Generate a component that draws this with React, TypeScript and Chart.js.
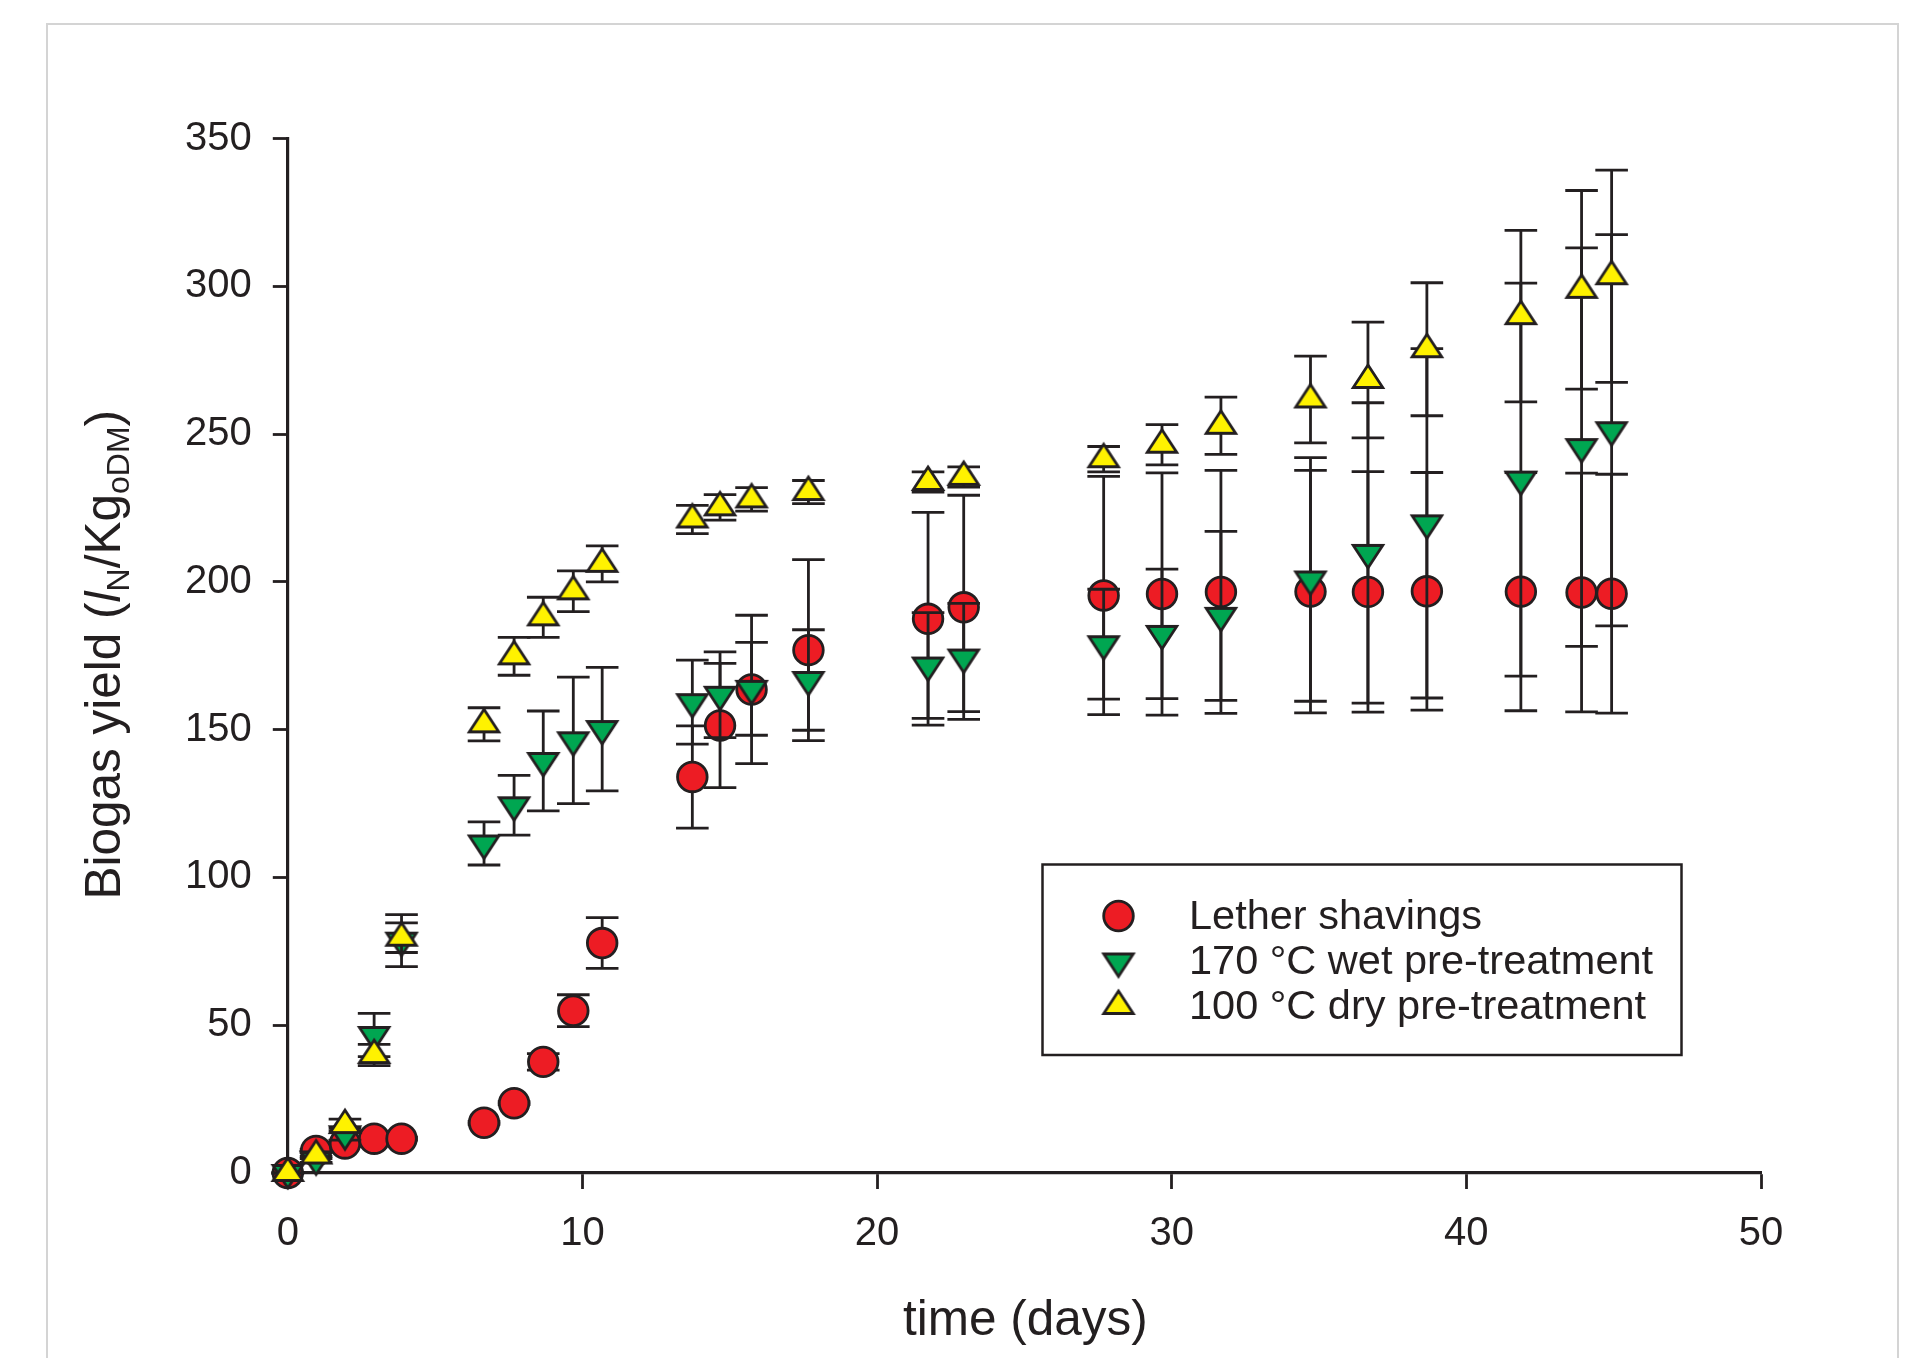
import React, { useEffect, useRef } from 'react';
import { Chart, registerables } from 'chart.js';

Chart.register(...registerables);

// ---------- data ----------
const days = [0, 0.96, 1.94, 2.93, 3.86, 6.66, 7.68, 8.67, 9.69, 10.67, 13.73, 14.67, 15.74, 17.67, 21.73, 22.94, 27.69, 29.67, 31.67, 34.71, 36.66, 38.66, 41.85, 43.91, 44.93];

const leather = [0, 7.5, 10, 11.6, 11.6, 17.0, 23.6, 37.6, 54.9, 77.8, 134.0, 151.4, 163.6, 176.9, 187.5, 191.4, 195.4, 195.9, 196.6, 196.7, 196.6, 196.8, 196.7, 196.4, 196.0];
const leatherErr = [0, 0.5, 1, 0.5, 0.5, 0.5, 0.5, 2.8, 5.4, 8.6, 17.3, 21.0, 25.1, 30.6, 36.0, 37.9, 40.3, 41.0, 41.1, 41.0, 40.7, 40.2, 40.3, 40.4, 40.4];

const wet170 = [0, 4.6, 13.1, 46.7, 78.6, 111.5, 124.4, 139.4, 146.4, 150.2, 159.3, 161.8, 163.8, 166.8, 171.7, 174.4, 178.9, 182.4, 188.5, 200.8, 209.8, 219.8, 234.6, 245.6, 251.3];
const wet170Err = [0, 1, 2, 7.3, 8.8, 7.3, 10.1, 16.9, 21.4, 20.9, 14.2, 14.5, 15.7, 17.0, 17.9, 18.3, 18.6, 21.9, 28.6, 41.2, 50.8, 59.1, 66.5, 67.4, 66.2];

const dry100 = [0, 5.9, 16.2, 39.9, 79.6, 151.8, 174.8, 188.0, 196.8, 206.1, 221.1, 225.2, 227.9, 230.4, 233.8, 235.5, 241.5, 246.4, 252.8, 261.7, 268.3, 278.7, 289.9, 298.8, 303.4];
const dry100Err = [0, 1, 2, 3.6, 5.0, 5.6, 6.4, 6.8, 6.9, 6.1, 4.8, 4.3, 4.0, 3.9, 3.4, 3.4, 4.3, 6.8, 9.7, 14.7, 19.6, 22.5, 29.0, 33.6, 35.9];

const seriesLabels = ['Lether shavings', '170 °C wet pre-treatment', '100 °C dry pre-treatment'];
const xTicks = [0, 10, 20, 30, 40, 50];
const yTicks = [0, 50, 100, 150, 200, 250, 300, 350];

// ---------- styles ----------
const FONT = '"Liberation Sans", Arial, Helvetica, sans-serif';
const DARK = '#231f20';
const RED = '#ed1c24';
const GREEN = '#00a651';
const YELLOW = '#fff200';
const W = 1926;
const H = 1358;
const BORDER = 2.8;

function makeTriangle(fill: string, up: boolean): HTMLCanvasElement {
  const c = document.createElement('canvas');
  const S = 48;
  c.width = S;
  c.height = S;
  const g = c.getContext('2d') as CanvasRenderingContext2D;
  const TW = 29.5;
  const TH = 22.5;
  const cx = S / 2;
  const cy = S / 2;
  g.beginPath();
  if (up) {
    g.moveTo(cx, cy - (2 * TH) / 3);
    g.lineTo(cx + TW / 2, cy + TH / 3);
    g.lineTo(cx - TW / 2, cy + TH / 3);
  } else {
    g.moveTo(cx, cy + (2 * TH) / 3);
    g.lineTo(cx + TW / 2, cy - TH / 3);
    g.lineTo(cx - TW / 2, cy - TH / 3);
  }
  g.closePath();
  g.fillStyle = fill;
  g.fill();
  g.lineJoin = 'miter';
  g.lineWidth = BORDER;
  g.strokeStyle = DARK;
  g.stroke();
  return c;
}

export default function App() {
  const ref = useRef<HTMLCanvasElement | null>(null);

  useEffect(() => {
    const canvas = ref.current;
    if (!canvas) return;
    const triDown = makeTriangle(GREEN, false);
    const triUp = makeTriangle(YELLOW, true);
    const errs = [leatherErr, wet170Err, dry100Err];
    const vals = [leather, wet170, dry100];

    const frame = {
      id: 'frame',
      beforeDraw(chart: any) {
        const ctx = chart.ctx;
        ctx.save();
        ctx.fillStyle = '#ffffff';
        ctx.fillRect(0, 0, W, H);
        ctx.strokeStyle = '#d4d4d4';
        ctx.lineWidth = 2;
        ctx.beginPath();
        ctx.moveTo(47, H);
        ctx.lineTo(47, 24);
        ctx.lineTo(1898, 24);
        ctx.lineTo(1898, H);
        ctx.stroke();
        ctx.restore();
      },
    };

    const errorBars = {
      id: 'errorBars',
      beforeDatasetDraw(chart: any, args: any) {
        const i = args.index;
        const meta = chart.getDatasetMeta(i);
        const ys = chart.scales.y;
        const ctx = chart.ctx;
        ctx.save();
        ctx.strokeStyle = DARK;
        ctx.lineWidth = 2.8;
        ctx.lineCap = 'butt';
        meta.data.forEach((el: any, j: number) => {
          const v = vals[i][j];
          const e = errs[i][j];
          const x = el.x;
          const yt = ys.getPixelForValue(v + e);
          const yb = ys.getPixelForValue(v - e);
          const cw = 16.3;
          ctx.beginPath();
          ctx.moveTo(x, yt);
          ctx.lineTo(x, yb);
          ctx.moveTo(x - cw, yt);
          ctx.lineTo(x + cw, yt);
          ctx.moveTo(x - cw, yb);
          ctx.lineTo(x + cw, yb);
          ctx.stroke();
        });
        ctx.restore();
      },
    };

    const texts = {
      id: 'texts',
      afterDraw(chart: any) {
        const ctx = chart.ctx;
        const area = chart.chartArea;
        ctx.save();
        ctx.fillStyle = DARK;

        // x title
        ctx.font = `49.5px ${FONT}`;
        ctx.textAlign = 'center';
        ctx.textBaseline = 'alphabetic';
        ctx.fillText('time (days)', (area.left + area.right) / 2 + 1, 1335);

        // y title with italic and subscripts
        const main = `49.5px ${FONT}`;
        const ital = `italic 49.5px ${FONT}`;
        const sub = `32px ${FONT}`;
        const pieces = [
          { t: 'Biogas yield (', f: main, dy: 0 },
          { t: 'l', f: ital, dy: 0 },
          { t: 'N', f: sub, dy: 9 },
          { t: '/Kg', f: main, dy: 0 },
          { t: 'oDM', f: sub, dy: 9 },
          { t: ')', f: main, dy: 0 },
        ];
        let total = 0;
        const widths = pieces.map((p) => {
          ctx.font = p.f;
          const w = ctx.measureText(p.t).width;
          total += w;
          return w;
        });
        ctx.translate(120, (area.top + area.bottom) / 2 - 1);
        ctx.rotate(-Math.PI / 2);
        ctx.textAlign = 'left';
        let px = -total / 2;
        pieces.forEach((p, k) => {
          ctx.font = p.f;
          ctx.fillText(p.t, px, p.dy);
          px += widths[k];
        });
        ctx.restore();

        // legend
        ctx.save();
        ctx.strokeStyle = DARK;
        ctx.lineWidth = 2.5;
        ctx.strokeRect(1042.5, 864.5, 639, 190.5);
        const mx = 1118.5;
        const rows = [916, 961.5, 1006];
        ctx.beginPath();
        ctx.arc(mx, rows[0], 14.8, 0, Math.PI * 2);
        ctx.fillStyle = RED;
        ctx.fill();
        ctx.lineWidth = BORDER;
        ctx.stroke();
        ctx.drawImage(triDown, mx - triDown.width / 2, rows[1] - triDown.height / 2);
        ctx.drawImage(triUp, mx - triUp.width / 2, rows[2] - triUp.height / 2);
        ctx.fillStyle = DARK;
        ctx.font = `41.5px ${FONT}`;
        ctx.textAlign = 'left';
        ctx.textBaseline = 'middle';
        const textRows = [918, 963, 1007.5];
        seriesLabels.forEach((s, k) => {
          ctx.fillText(s, 1189, textRows[k]);
        });
        ctx.restore();
      },
    };

    const chart = new Chart(canvas, {
      type: 'scatter',
      data: {
        datasets: [
          {
            label: seriesLabels[0],
            data: days.map((d, i) => ({ x: d, y: leather[i] })),
            pointStyle: 'circle',
            pointRadius: 14.8,
            pointBackgroundColor: RED,
            pointBorderColor: DARK,
            pointBorderWidth: BORDER,
            showLine: false,
            clip: false,
            order: 3,
          },
          {
            label: seriesLabels[1],
            data: days.map((d, i) => ({ x: d, y: wet170[i] })),
            pointStyle: triDown,
            pointRadius: 15,
            showLine: false,
            clip: false,
            order: 2,
          },
          {
            label: seriesLabels[2],
            data: days.map((d, i) => ({ x: d, y: dry100[i] })),
            pointStyle: triUp,
            pointRadius: 15,
            showLine: false,
            clip: false,
            order: 1,
          },
        ] as any,
      },
      options: {
        animation: false,
        responsive: false,
        devicePixelRatio: 1,
        events: [],
        layout: { padding: { left: 0, top: 138.5, right: 165, bottom: 0 } },
        plugins: {
          legend: { display: false },
          tooltip: { enabled: false },
          title: { display: false },
        },
        scales: {
          x: {
            type: 'linear',
            min: 0,
            max: 50,
            afterBuildTicks: (s: any) => {
              s.ticks = xTicks.map((v) => ({ value: v }));
            },
            afterFit: (s: any) => {
              s.height = 185;
            },
            ticks: {
              font: { family: FONT, size: 40 },
              color: DARK,
              padding: 21,
              maxRotation: 0,
              autoSkip: false,
            },
            grid: {
              drawOnChartArea: false,
              drawTicks: true,
              tickLength: 16,
              tickWidth: 2.8,
              tickColor: DARK,
            },
            border: { display: true, color: DARK, width: 3.2 },
          },
          y: {
            type: 'linear',
            min: 0,
            max: 350,
            afterBuildTicks: (s: any) => {
              s.ticks = yTicks.map((v) => ({ value: v }));
            },
            afterFit: (s: any) => {
              s.width = 287.8;
            },
            ticks: {
              font: { family: FONT, size: 40 },
              color: DARK,
              padding: 21,
              autoSkip: false,
            },
            grid: {
              drawOnChartArea: false,
              drawTicks: true,
              tickLength: 15,
              tickWidth: 2.8,
              tickColor: DARK,
            },
            border: { display: true, color: DARK, width: 3.2 },
          },
        },
      } as any,
      plugins: [frame, errorBars, texts],
    });

    return () => {
      chart.destroy();
    };
  }, []);

  return (
    <div style={{ position: 'absolute', left: 0, top: 0, width: W, height: H, overflow: 'hidden', background: '#fff' }}>
      <canvas ref={ref} width={W} height={H} style={{ width: W, height: H, display: 'block' }} />
    </div>
  );
}
